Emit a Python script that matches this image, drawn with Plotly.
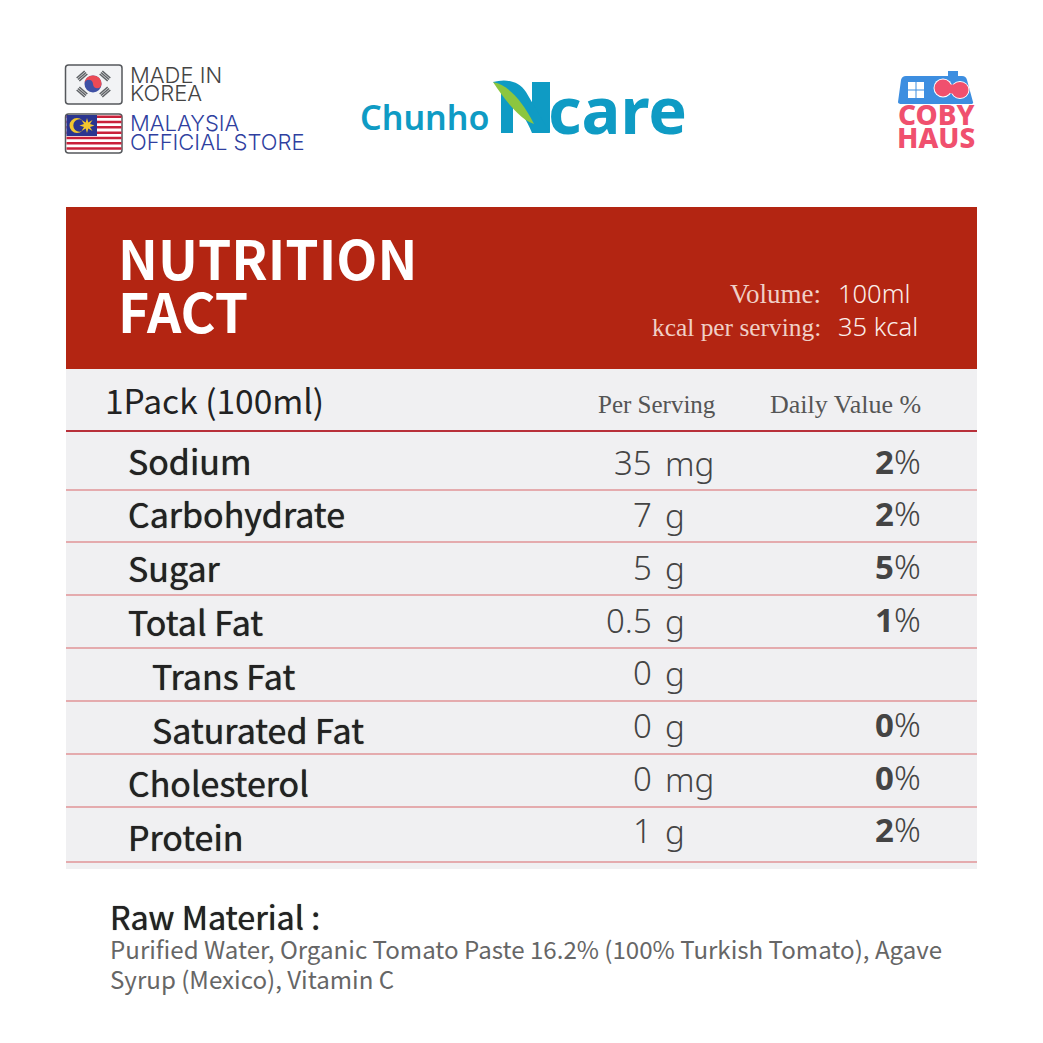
import plotly.graph_objects as go

nutrients = ["Sodium", "Carbohydrate", "Sugar", "Total Fat", "Trans Fat", "Saturated Fat", "Cholesterol", "Protein"]
sub_rows = ["Trans Fat", "Saturated Fat"]
amounts = ["35", "7", "5", "0.5", "0", "0", "0", "1"]
units = ["mg", "g", "g", "g", "g", "g", "mg", "g"]
daily_values = ["2", "2", "5", "1", "", "0", "0", "2"]
raw_material = ["Purified Water, Organic Tomato Paste 16.2% (100% Turkish Tomato), Agave",
                "Syrup (Mexico), Vitamin C"]

KR = "Noto Sans CJK KR"
SERIF = "Liberation Serif"
RED = "#b32512"
TEAL = "#0f9bc4"
PINK = "#f0506e"
DARK = "#55585c"

fig = go.Figure()


def text(x, y, s, size, color="#222222", family=KR, anchor="left", weight=None, shadow=None):
    fig.add_annotation(x=x, y=y, text=s, showarrow=False, xanchor=anchor, yanchor="middle",
                       font=dict(family=family, size=size, color=color, weight=weight, shadow=shadow))


def rect(x0, y0, x1, y1, fill, line=None, lw=0):
    fig.add_shape(type="rect", x0=x0, y0=y0, x1=x1, y1=y1, fillcolor=fill,
                  line=dict(color=line or fill, width=lw))


def circle(cx, cy, rx, ry, fill):
    fig.add_shape(type="circle", x0=cx - rx, y0=cy - ry, x1=cx + rx, y1=cy + ry,
                  fillcolor=fill, line=dict(width=0))


def path(d, fill):
    fig.add_shape(type="path", path=d, fillcolor=fill, line=dict(width=0))


def rounded(x0, y0, x1, y1, r):
    return (f"M {x0 + r} {y0} L {x1 - r} {y0} Q {x1} {y0} {x1} {y0 + r} L {x1} {y1 - r} Q {x1} {y1} {x1 - r} {y1} "
            f"L {x0 + r} {y1} Q {x0} {y1} {x0} {y1 - r} L {x0} {y0 + r} Q {x0} {y0} {x0 + r} {y0} Z")


# table background
rect(66, 207, 977, 369, RED)
rect(66, 369, 977, 869, "#f0f0f2")

# header
text(116, 256, "NUTRITION", 53.4, "white", weight=700)
text(116, 309, "FACT", 53.4, "white", weight=700)
text(823, 294, "Volume:", 27, "#f0cfc6", SERIF, "right")
text(823, 327, "kcal per serving:", 25.4, "#f0cfc6", SERIF, "right")
text(836, 293, "100ml", 25.5, "#fbeeea", "Noto Sans", weight=300)
text(836, 326, "35 kcal", 25.5, "#fbeeea", "Noto Sans", weight=300)

text(103, 399, "1Pack (100ml)", 33.5, "#222222")
text(657, 404, "Per Serving", 25, "#555555", SERIF, "center")
text(923, 404, "Daily Value %", 26, "#555555", SERIF, "right")

fig.add_shape(type="line", x0=66, x1=977, y0=431, y1=431, line=dict(color="#b8303a", width=2))

for i, name in enumerate(nutrients):
    indent = 150 if name in sub_rows else 126
    text(indent, 460 + i * 53.8, name, 34, "#222222", shadow="0 0 0.8px #222222")
    text(654, 462 + i * 52.7, amounts[i], 33, "#444444", "Noto Sans", "right", weight=300)
    text(663, 463 + i * 52.7, units[i], 33, "#444444", "Noto Sans", weight=300)
    if daily_values[i]:
        text(923, 461 + i * 52.7, "<b>%s</b>%%" % daily_values[i], 33, "#444444", "Noto Sans", "right", weight=300)
    y = 490 + i * 53 - (1 if i else 0) if i < 7 else 862
    fig.add_shape(type="line", x0=66, x1=977, y0=y, y1=y, line=dict(color="#d9666a", width=1))

# raw material
text(108, 916, "Raw Material :", 32.3, "#222222", shadow="0 0 0.8px #222222")
text(108, 948, raw_material[0], 24.1, "#666666")
text(108, 978, raw_material[1], 24.1, "#666666")

# korea flag
fig.add_shape(type="path", path=rounded(65.5, 65, 122, 104, 3), fillcolor="#f2f3f5",
              line=dict(color=DARK, width=1.5))
circle(93, 84, 8.5, 8.5, "#3f51a5")
path("M 84.5 84 C 84.5 72.7 101.5 72.7 101.5 84 C 101.5 89.7 93 89.7 93 84 C 93 78.3 84.5 78.3 84.5 84 Z", "#ea4a55")
for (cx, cy, dx, dy) in [(82, 76, 4, -3.5), (105, 76, 4, 3.5), (82, 92, 4, 3.5), (105, 92, 4, -3.5)]:
    for k in (-2, 0, 2):
        ox = k * dy / 5.3
        oy = -k * dx / 5.3
        fig.add_shape(type="line", x0=cx - dx + ox, y0=cy - dy + oy, x1=cx + dx + ox, y1=cy + dy + oy,
                      line=dict(color="#5f6266", width=1.6))
text(128, 75, "MADE IN", 22, "#444444", "Inter", weight=300)
text(128, 93, "KOREA", 22, "#444444", "Inter", weight=300)

# malaysia flag
fig.add_shape(type="path", path=rounded(65.5, 114, 122, 153, 3), fillcolor="white",
              line=dict(color=DARK, width=1.5))
for s in range(7):
    rect(66.5, 115.5 + s * 5.3, 121.5, 118 + s * 5.3, "#c9203a")
rect(66.5, 115, 97, 136, "#2a3590")
circle(77, 125.5, 7.5, 7.5, "#f2c62e")
circle(79.5, 125.5, 6.2, 6.2, "#2a3590")
fig.add_shape(type="path", path="M 87 118 L 88.3 122.5 L 92.5 120 L 90 124 L 94.5 125.5 L 90 127 L 92.5 131 "
                                "L 88.3 128.5 L 87 133 L 85.7 128.5 L 81.5 131 L 84 127 L 79.5 125.5 L 84 124 "
                                "L 81.5 120 L 85.7 122.5 Z", fillcolor="#f2c62e", line=dict(width=0))
text(128, 123, "MALAYSIA", 22, "#2f3f9f", "Inter", weight=300)
text(128, 142, "OFFICIAL STORE", 22, "#2f3f9f", "Inter", weight=300)

# chunho ncare logo
text(358, 117, "Chunho", 34, TEAL, "Noto Sans", weight=600)
path("M 501 90 L 513 104 L 513 133 L 501 133 Z", TEAL)
path("M 532 82 L 550 82 L 550 133 L 532 116 Z", TEAL)
path("M 493 82 C 505 79 518 80 526 92 L 550 133 L 532 133 C 525 115 510 95 493 82 Z", TEAL)
path("M 493 82 C 508 85 522 100 534 124 C 522 120 508 105 493 82 Z", "#8cc63f")
text(546, 109, "care", 65, TEAL, "Noto Sans", weight=700)

# coby haus logo
path("M 898 102 Q 898 104 902 104 L 970 104 Q 974 104 973 102 L 967 80 Q 966 76 962 76 "
     "L 958 76 L 958 71 L 948 71 L 948 76 L 906 76 Q 902 76 901 80 Z", "#3d8ee0")
rect(908, 82, 924, 98, "white")
rect(915.5, 82, 916.5, 98, "#3d8ee0")
rect(908, 89.5, 924, 90.5, "#3d8ee0")
circle(943, 88, 9.5, 9.5, "white")
circle(960, 90, 9.5, 9, "white")
circle(943, 88, 8.5, 8.5, PINK)
circle(960, 90, 8.5, 8, PINK)
circle(952, 89, 4.5, 4.5, PINK)
text(936, 114, "COBY", 28, PINK, "Noto Sans", "center", weight=800)
text(936, 137, "HAUS", 28, PINK, "Noto Sans", "center", weight=800)

fig.update_xaxes(range=[0, 1043], visible=False, fixedrange=True)
fig.update_yaxes(range=[1043, 0], visible=False, fixedrange=True)
fig.update_layout(width=1043, height=1043, margin=dict(l=0, r=0, t=0, b=0),
                  paper_bgcolor="white", plot_bgcolor="white", showlegend=False)

fig.write_html("out.html", config=dict(displayModeBar=False),
               post_script="document.body.style.margin='0';document.body.style.overflow='hidden';")
